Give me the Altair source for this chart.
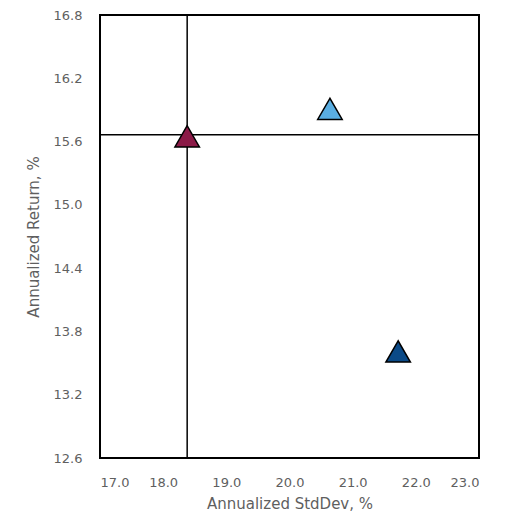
import altair as alt
import pandas as pd

series = ["Portfolio A", "Portfolio B", "Portfolio C"]
stddev = [18.38, 20.64, 21.72]
returns = [15.65, 15.91, 13.61]
colors = ["#8B1A47", "#5AAEE2", "#0B4A87"]

ref_x = [18.38]
ref_y = [15.665]

x_ticks = [17.0, 18.0, 19.0, 20.0, 21.0, 22.0, 23.0]
y_ticks = [12.6, 13.2, 13.8, 14.4, 15.0, 15.6, 16.2, 16.8]

df = pd.DataFrame({"series": series, "sd": stddev, "ret": returns})
vdf = pd.DataFrame({"x": ref_x})
hdf = pd.DataFrame({"y": ref_y})

font = "DejaVu Sans"
gray = "#5f5f5f"

xscale = alt.Scale(domain=[17.0, 23.0], nice=False, zero=False)
yscale = alt.Scale(domain=[12.6, 16.8], nice=False, zero=False)

xaxis = alt.Axis(title="Annualized StdDev, %", values=x_ticks, format=".1f", grid=False,
                 ticks=False, domain=False, labelPadding=18, titlePadding=7,
                 labelFont=font, titleFont=font, labelFontSize=13, titleFontSize=15,
                 labelColor=gray, titleColor=gray, titleFontWeight="normal")
yaxis = alt.Axis(title="Annualized Return, %", values=y_ticks, format=".1f", grid=False,
                 ticks=False, domain=False, labelPadding=18, titlePadding=12,
                 labelFont=font, titleFont=font, labelFontSize=13, titleFontSize=15,
                 labelColor=gray, titleColor=gray, titleFontWeight="normal")

vline = alt.Chart(vdf).mark_rule(color="black", strokeWidth=1.5).encode(
    x=alt.X("x:Q", scale=xscale, axis=xaxis)
)
hline = alt.Chart(hdf).mark_rule(color="black", strokeWidth=1.5).encode(
    y=alt.Y("y:Q", scale=yscale, axis=yaxis)
)
pts = alt.Chart(df).mark_point(shape="triangle-up", filled=True, size=600,
                               stroke="black", strokeWidth=1.5, opacity=1).encode(
    x=alt.X("sd:Q", scale=xscale, axis=xaxis),
    y=alt.Y("ret:Q", scale=yscale, axis=yaxis),
    fill=alt.Fill("series:N", scale=alt.Scale(domain=series, range=colors), legend=None),
)

chart = alt.layer(vline, hline, pts).properties(
    width=379, height=443, autosize="none",
    padding={"left": 92, "top": 7, "right": 21, "bottom": 59},
).configure_view(stroke="black", strokeWidth=2)

chart.save("out.html", embed_options={"renderer": "svg", "actions": False})
